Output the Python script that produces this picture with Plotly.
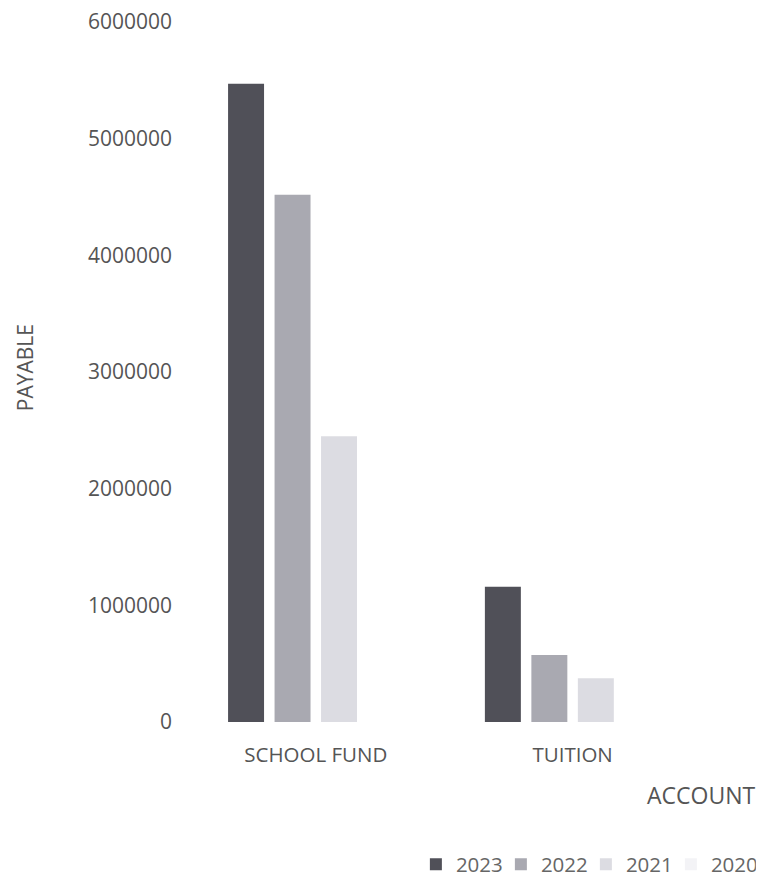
import plotly.graph_objects as go

categories = ["SCHOOL FUND", "TUITION"]
years = ["2023", "2022", "2021", "2020"]
values_2023 = [5470000, 1160000]
values_2022 = [4520000, 575000]
values_2021 = [2450000, 375000]
values_2020 = [0, 0]
series = [values_2023, values_2022, values_2021, values_2020]
colors = ["#505058", "#a9a9b1", "#dcdce2", "#f3f3f6"]
tick_vals = [0, 1000000, 2000000, 3000000, 4000000, 5000000, 6000000]
tick_text = ["0", "1000000", "2000000", "3000000", "4000000", "5000000", "6000000"]

fig = go.Figure()
for y, vals, c in zip(years, series, colors):
    fig.add_trace(go.Bar(name=y, x=categories, y=vals, marker=dict(color=c, line=dict(width=0))))

font = "Open Sans, Liberation Sans, sans-serif"
fig.update_layout(
    width=771, height=896,
    plot_bgcolor="white", paper_bgcolor="white",
    margin=dict(l=173, r=70, t=22, b=154),
    barmode="group", bargap=0.276, bargroupgap=0.226,
    font=dict(family=font, color="#555555", size=20),
    showlegend=True,
    legend=dict(orientation="h", x=0.46, xanchor="left", y=-0.175, yanchor="top",
                font=dict(size=20.5, color="#666666"), itemwidth=30, traceorder="normal",
                entrywidth=40, entrywidthmode="pixels"),
    xaxis=dict(range=[-0.556, 1.5], showgrid=False, showline=False, ticks="",
               automargin=False, ticklabelstandoff=18,
               tickfont=dict(size=20.5, color="#555555")),
    yaxis=dict(range=[0, 6000000], tickvals=tick_vals, ticktext=tick_text, showgrid=False,
               zeroline=False, showline=False, ticks="", automargin=False,
               tickfont=dict(size=21, color="#555555")),
    annotations=[
        dict(text="PAYABLE", textangle=-90, x=-0.28, y=0.5056, xref="paper", yref="paper",
             xanchor="center", yanchor="middle",
             showarrow=False, font=dict(size=21, color="#555555")),
        dict(text="ACCOUNT", x=1.106, y=-0.104, xref="paper", yref="paper", xanchor="right",
             yanchor="middle", showarrow=False, font=dict(size=23, color="#555555")),
    ],
)
fig.write_html("out.html", config={"displayModeBar": False},
               post_script="document.body.style.margin='0';document.body.style.overflow='hidden';")
